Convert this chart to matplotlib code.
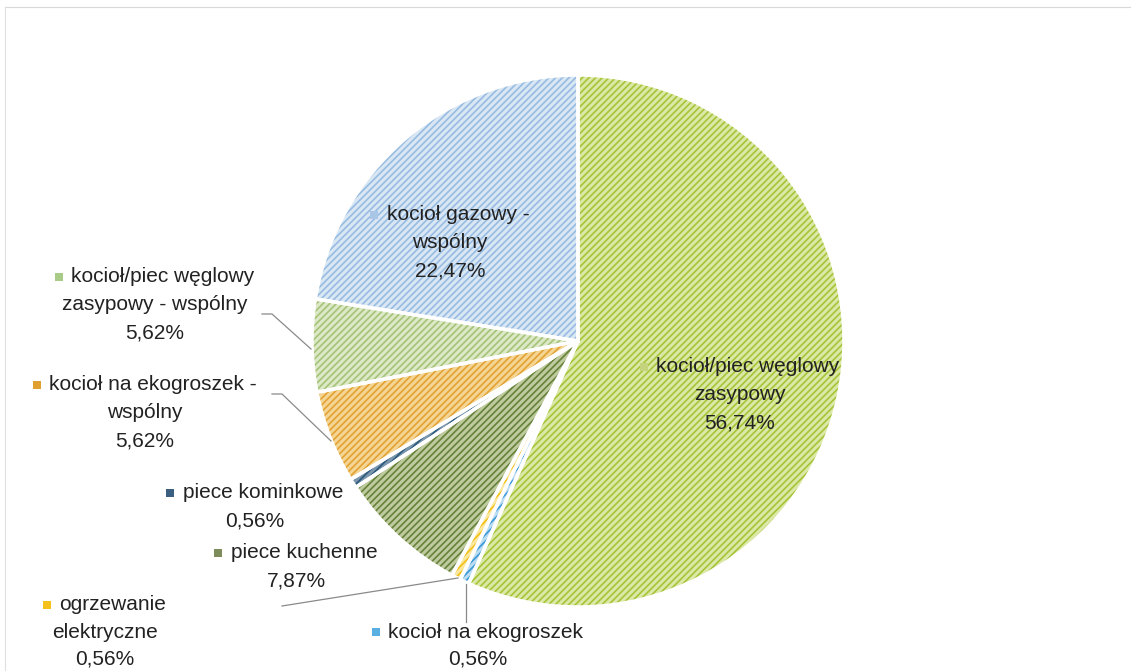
import matplotlib
matplotlib.use("Agg")
import matplotlib.pyplot as plt
from matplotlib import font_manager

categories = [
    "kocioł/piec węglowy\nzasypowy",
    "kocioł na ekogroszek",
    "ogrzewanie\nelektryczne",
    "piece kuchenne",
    "piece kominkowe",
    "kocioł na ekogroszek -\nwspólny",
    "kocioł/piec węglowy\nzasypowy - wspólny",
    "kocioł gazowy -\nwspólny",
]
values = [56.74, 0.56, 0.56, 7.87, 0.56, 5.62, 5.62, 22.47]
pct_labels = ["56,74%", "0,56%", "0,56%", "7,87%", "0,56%", "5,62%", "5,62%", "22,47%"]

hatch_colors = ["#a6c436", "#3a9ad8", "#f3c11a", "#66823a", "#2b5a7c", "#e3a232", "#a5c378", "#98bbe0"]
face_colors = ["#dbe8a8", "#bcdcf2", "#fbe8a0", "#bfcb9e", "#7c97ad", "#f4d594", "#dde9c6", "#d9e7f5"]
marker_colors = ["#c3d47c", "#5aaee0", "#f5c21c", "#7d8c5a", "#3b5f80", "#e0a030", "#a8cc88", "#a9c6e6"]

W, H = 1131, 671
avail = {f.name for f in font_manager.fontManager.ttflist}
fam = [f for f in ["Liberation Sans Narrow", "Liberation Sans", "DejaVu Sans"] if f in avail]
plt.rcParams["font.family"] = fam
plt.rcParams["hatch.linewidth"] = 1.2

fig = plt.figure(figsize=(W / 100, H / 100), dpi=100)
ax = fig.add_axes([0, 0, 1, 1])

cx, cy, r = 578, H - 341, 266

ax.pie(values, colors=face_colors, startangle=90, counterclock=False,
       center=(cx, cy), radius=r, wedgeprops=dict(linewidth=0))
wedges, _ = ax.pie(values, colors=["none"] * len(values), startangle=90, counterclock=False,
                   center=(cx, cy), radius=r, wedgeprops=dict(linewidth=0))
for w, hc in zip(wedges, hatch_colors):
    w.set_facecolor("none")
    w.set_edgecolor(hc)
    w.set_hatch("/////")
    w.set_linewidth(0)
ax.pie(values, colors=["none"] * len(values), startangle=90, counterclock=False,
       center=(cx, cy), radius=r, wedgeprops=dict(linewidth=2.5, edgecolor="white", fill=False))

ax.set_xlim(0, W)
ax.set_ylim(0, H)
ax.set_aspect("equal")
ax.axis("off")

# label layout: (center x, top line y in pixel coords, line height)
layout = [
    (740, 367, 28),
    (478, 632, 27),
    (105, 605, 27),
    (296, 553, 28),
    (255, 493, 28),
    (145, 385, 28),
    (155, 277, 28),
    (450, 215, 28),
]
fs = 15
ms = 7
gap = 9
renderer = fig.canvas.get_renderer()
for i, (lx, ly, lh) in enumerate(layout):
    lines = categories[i].split("\n") + [pct_labels[i]]
    for j, line in enumerate(lines):
        t = ax.text(lx, H - (ly + j * lh), line, ha="center", va="center",
                    fontsize=fs, color="#222222")
        if j == 0:
            tw = t.get_window_extent(renderer).width
            t.set_x(lx + (ms + gap) / 2)
            mx = lx - (tw + ms + gap) / 2 + ms / 2
            ax.scatter([mx], [H - ly], marker="s", s=ms * ms * 0.52, color=marker_colors[i],
                       linewidths=0, zorder=5)

lc = "#8a8a8a"
ax.plot([262, 272, 311], [H - 314, H - 314, H - 349], color=lc, lw=0.9)
ax.plot([272, 282, 331], [H - 394, H - 394, H - 441], color=lc, lw=0.9)
ax.plot([282, 458], [H - 606, H - 578], color=lc, lw=0.9)
ax.plot([466, 466], [H - 584, H - 622], color=lc, lw=0.9)

ax.plot([5, W], [H - 7, H - 7], color="#d8d8d8", lw=0.8)
ax.plot([5, 5], [H - 7, 0], color="#e0e0e0", lw=0.8)

fig.savefig("out.png", dpi=100)
